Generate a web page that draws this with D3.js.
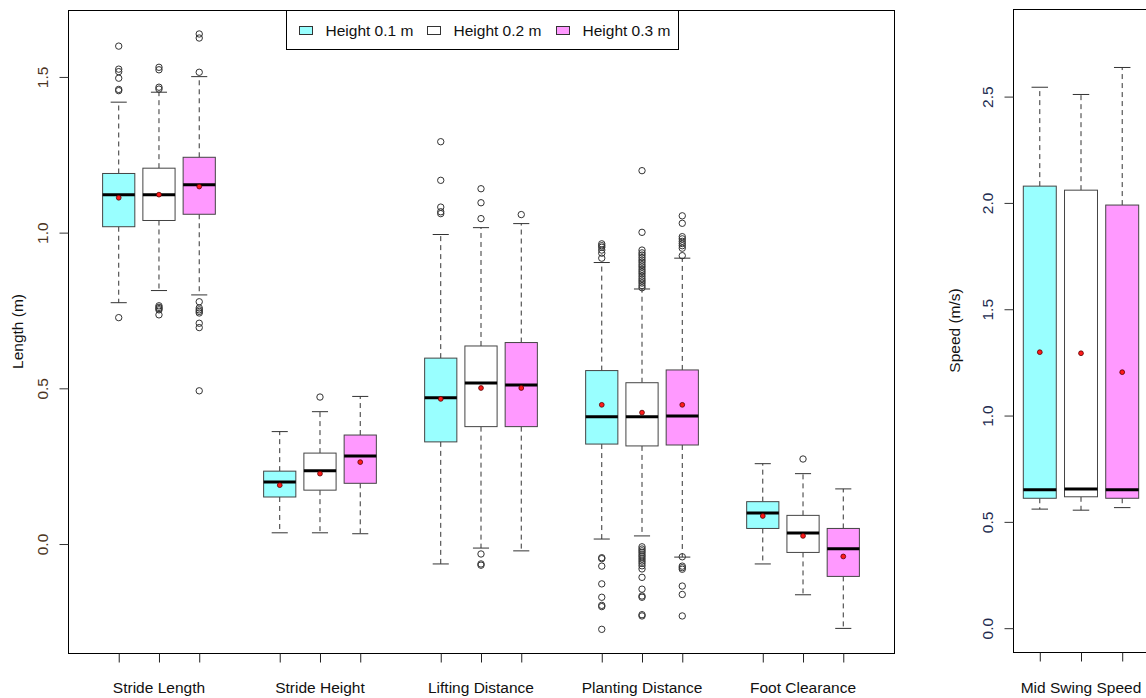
<!DOCTYPE html>
<html>
<head>
<meta charset="utf-8">
<script src="https://cdn.jsdelivr.net/npm/d3@7"></script>
<style>
    body { margin: 0; background: #fff; }
    text { font-family: "Liberation Sans", Arial, sans-serif; }
</style>
</head>
<body>
<svg id="chart" width="1146" height="698"></svg>
<script>

// ---- data ----
const groupNames = ["Height 0.1 m", "Height 0.2 m", "Height 0.3 m"];
const groupColors = ["#99ffff", "#ffffff", "#ff99ff"];

const lengthMeasures = ["Stride Length", "Stride Height", "Lifting Distance", "Planting Distance", "Foot Clearance"];
const speedMeasures = ["Mid Swing Speed"];

// each row = one measure, each column = one height
const lengthLow    = [[0.775, 0.814, 0.800], [0.036, 0.036, 0.033], [-0.064, -0.013, -0.022], [0.016, 0.026, -0.042], [-0.064, -0.163, -0.271]];
const lengthQ1     = [[1.019, 1.039, 1.059], [0.151, 0.173, 0.195], [0.328, 0.377, 0.377], [0.321, 0.315, 0.318], [0.050, -0.027, -0.104]];
const lengthMedian = [[1.122, 1.122, 1.154], [0.199, 0.235, 0.283], [0.470, 0.517, 0.511], [0.409, 0.409, 0.411], [0.100, 0.035, -0.015]];
const lengthQ3     = [[1.190, 1.207, 1.242], [0.234, 0.292, 0.350], [0.597, 0.636, 0.647], [0.557, 0.518, 0.559], [0.136, 0.092, 0.050]];
const lengthHigh   = [[1.419, 1.451, 1.501], [0.361, 0.425, 0.474], [0.994, 1.016, 1.029], [0.904, 0.819, 0.918], [0.258, 0.226, 0.177]];
const lengthMean   = [[1.112, 1.122, 1.148], [0.189, 0.226, 0.263], [0.466, 0.501, 0.501], [0.447, 0.422, 0.447], [0.090, 0.026, -0.040]];
const lengthOutliers = [
    [[1.599, 1.525, 1.517, 1.496, 1.460, 1.456, 0.727],
     [1.531, 1.523, 1.467, 1.461, 0.765, 0.760, 0.756, 0.752, 0.736],
     [1.638, 1.625, 1.515, 0.778, 0.758, 0.752, 0.747, 0.742, 0.709, 0.695, 0.492]],
    [[], [0.472], []],
    [[1.292, 1.168, 1.082, 1.067, 1.061],
     [1.141, 1.096, 1.045, -0.032, -0.064, -0.068],
     [1.058]],
    [[0.964, 0.958, 0.953, 0.944, 0.934, 0.918, -0.044, -0.047, -0.071, -0.128, -0.171, -0.197, -0.201, -0.274],
     [1.199, 1.001, 0.944, 0.935, 0.928, 0.920, 0.912, 0.905, 0.897, 0.890, 0.882, 0.875, 0.868, 0.860, 0.852, 0.845, 0.838, 0.830, 0.823,
      -0.009, -0.016, -0.022, -0.028, -0.035, -0.041, -0.048, -0.055, -0.062, -0.070, -0.080, -0.107, -0.145, -0.167, -0.171, -0.227, -0.231],
     [1.054, 1.030, 0.987, 0.980, 0.972, 0.965, 0.958, 0.950, 0.926, -0.041, -0.071, -0.076, -0.081, -0.135, -0.162, -0.231]],
    [[], [0.273], []]
];

const speedLow    = [[0.560, 0.555, 0.567]];
const speedQ1     = [[0.611, 0.618, 0.611]];
const speedMedian = [[0.651, 0.655, 0.651]];
const speedQ3     = [[2.079, 2.060, 1.990]];
const speedHigh   = [[2.544, 2.510, 2.637]];
const speedMean   = [[1.298, 1.293, 1.204]];
const speedOutliers = [[[], [], []]];

const lengthTicks = [0, 0.5, 1.0, 1.5];
const speedTicks = [0, 0.5, 1.0, 1.5, 2.0, 2.5];


// build box rows: position = measure * 4 + group + 1
function buildRows(low, q1, med, q3, high, mean, outliers) {
    let rows = [];
    low.forEach((m, j) => {
        m.forEach((v, i) => {
            rows.push({
                pos: j * 4 + i + 1,
                group: i,
                low: v, q1: q1[j][i], med: med[j][i], q3: q3[j][i], high: high[j][i],
                mean: mean[j][i],
                out: outliers[j][i]
            });
        });
    });
    return rows;
}

const svg = d3.select("#chart");
const fontSize = 15.5;

function drawPanel(cfg) {
    let g = svg.append("g");

    let x = d3.scaleLinear().domain(cfg.xDomain).range([cfg.left, cfg.right]);
    let y = d3.scaleLinear().domain(cfg.yDomain).range([cfg.bottom, cfg.top]);
    let bw = (x(1) - x(0)) * 0.8;

    let boxes = g.selectAll(".box").data(cfg.rows).join("g").attr("class", "box");

    // whiskers
    boxes.append("line")
        .attr("x1", d => x(d.pos)).attr("x2", d => x(d.pos))
        .attr("y1", d => y(d.q1)).attr("y2", d => y(d.low))
        .attr("stroke", "#333").attr("stroke-dasharray", "5,4");
    boxes.append("line")
        .attr("x1", d => x(d.pos)).attr("x2", d => x(d.pos))
        .attr("y1", d => y(d.q3)).attr("y2", d => y(d.high))
        .attr("stroke", "#333").attr("stroke-dasharray", "5,4");

    // staples
    ["low", "high"].forEach(k => {
        boxes.append("line")
            .attr("x1", d => x(d.pos) - bw / 4).attr("x2", d => x(d.pos) + bw / 4)
            .attr("y1", d => y(d[k])).attr("y2", d => y(d[k]))
            .attr("stroke", "#333");
    });

    boxes.append("rect")
        .attr("x", d => x(d.pos) - bw / 2)
        .attr("y", d => y(d.q3))
        .attr("width", bw)
        .attr("height", d => y(d.q1) - y(d.q3))
        .attr("fill", d => groupColors[d.group])
        .attr("stroke", "#444");

    boxes.append("line")
        .attr("x1", d => x(d.pos) - bw / 2).attr("x2", d => x(d.pos) + bw / 2)
        .attr("y1", d => y(d.med)).attr("y2", d => y(d.med))
        .attr("stroke", "black").attr("stroke-width", 3);

    boxes.selectAll(".outlier")
        .data(d => d.out.map(v => ({pos: d.pos, v: v})))
        .join("circle")
        .attr("class", "outlier")
        .attr("cx", d => x(d.pos))
        .attr("cy", d => y(d.v))
        .attr("r", 3.2)
        .attr("fill", "none")
        .attr("stroke", "#333");

    boxes.append("circle")
        .attr("cx", d => x(d.pos))
        .attr("cy", d => y(d.mean))
        .attr("r", 2.4)
        .attr("fill", "#ff1a1a")
        .attr("stroke", "#5a0000")
        .attr("stroke-width", 0.8);

    // frame
    g.append("rect")
        .attr("x", cfg.left + 0.5).attr("y", cfg.top + 0.5)
        .attr("width", cfg.right - cfg.left).attr("height", cfg.bottom - cfg.top)
        .attr("fill", "none").attr("stroke", "black");

    // y axis
    let yAxis = g.append("g")
        .attr("transform", `translate(${cfg.left + 0.5},0)`)
        .call(d3.axisLeft(y).tickValues(cfg.yTicks).tickSize(9).tickFormat(d3.format(".1f")));
    yAxis.select(".domain").remove();
    yAxis.attr("color", "#333");
    yAxis.selectAll("text")
        .attr("x", 0).attr("dy", null)
        .attr("text-anchor", "middle")
        .attr("transform", "translate(-21,0) rotate(-90)")
        .attr("font-size", fontSize)
        .attr("font-family", "Liberation Sans, Arial, sans-serif")
        .attr("fill", cfg.tickColor);

    // x axis ticks at every box
    let xAxis = g.append("g")
        .attr("transform", `translate(0,${cfg.bottom + 0.5})`)
        .call(d3.axisBottom(x).tickValues(cfg.rows.map(d => d.pos)).tickSize(9).tickFormat(""));
    xAxis.select(".domain").remove();
    xAxis.attr("color", "#222");

    g.selectAll(".measure")
        .data(cfg.measures)
        .join("text")
        .attr("class", "measure")
        .attr("x", (d, j) => x(j * 4 + 2))
        .attr("y", 693)
        .attr("text-anchor", "middle")
        .attr("font-size", fontSize)
        .attr("fill", "#111")
        .text(d => d);

    g.append("text")
        .attr("transform", `translate(${cfg.titleX},${(cfg.top + cfg.bottom) / 2}) rotate(-90)`)
        .attr("text-anchor", "middle")
        .attr("font-size", fontSize)
        .attr("fill", "#111")
        .text(cfg.title);
}

drawPanel({
    rows: buildRows(lengthLow, lengthQ1, lengthMedian, lengthQ3, lengthHigh, lengthMean, lengthOutliers),
    measures: lengthMeasures,
    xDomain: [-0.26, 20.26],
    yDomain: [-0.35, 1.715],
    left: 68, right: 894, top: 10, bottom: 653,
    yTicks: lengthTicks,
    tickColor: "#4a3320",
    title: "Length (m)",
    titleX: 23
});

drawPanel({
    rows: buildRows(speedLow, speedQ1, speedMedian, speedQ3, speedHigh, speedMean, speedOutliers),
    measures: speedMeasures,
    xDomain: [0.35, 3.65],
    yDomain: [-0.112, 2.912],
    left: 1013, right: 1149, top: 9, bottom: 652,
    yTicks: speedTicks,
    tickColor: "#202a4e",
    title: "Speed (m/s)",
    titleX: 960
});

// legend
let legend = svg.append("g");
legend.append("rect")
    .attr("x", 286.5).attr("y", 10.5)
    .attr("width", 392).attr("height", 39)
    .attr("fill", "white").attr("stroke", "black");

const legendX = [299.5, 427.5, 556.5];
legend.selectAll(".swatch")
    .data(groupNames)
    .join("rect")
    .attr("class", "swatch")
    .attr("x", (d, i) => legendX[i]).attr("y", 26.5)
    .attr("width", 13).attr("height", 8)
    .attr("fill", (d, i) => groupColors[i])
    .attr("stroke", "#333");

legend.selectAll(".label")
    .data(groupNames)
    .join("text")
    .attr("class", "label")
    .attr("x", (d, i) => legendX[i] + 26)
    .attr("y", 36)
    .attr("font-size", fontSize)
    .attr("fill", "#111")
    .text(d => d);

</script>
</body>
</html>
